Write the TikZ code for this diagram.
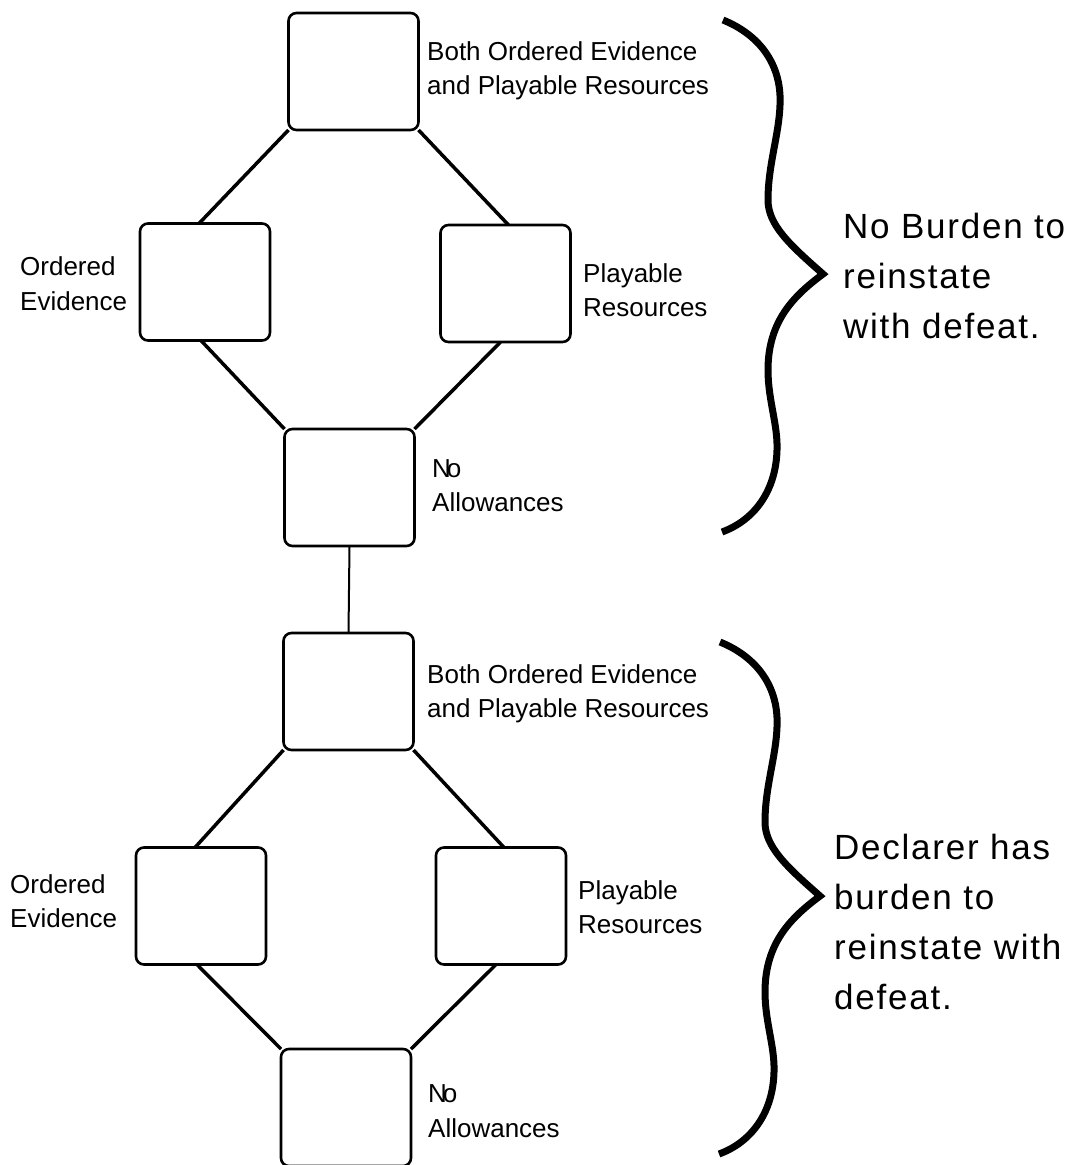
\documentclass[tikz,border=0pt]{standalone}
\usepackage{fontspec}
\setmainfont{Liberation Sans}
\newfontfamily\brcfont[LetterSpace=5]{Liberation Sans}
\begin{document}
\begin{tikzpicture}[x=1pt,y=-1pt,
  box/.style={draw, line width=2.6pt, rounded corners=8pt, minimum width=130pt, minimum height=117pt, inner sep=0pt, outer sep=0pt},
  lbl/.style={inner sep=0pt, anchor=west, align=left, font=\fontsize{26}{34.5}\selectfont},
  brlbl/.style={inner sep=0pt, anchor=west, align=left, font=\brcfont\fontsize{35}{50}\selectfont},
  link/.style={line width=3.5pt},
  vlink/.style={line width=2pt},
  bracestroke/.style={line width=7pt, line join=miter}]
\useasboundingbox (0,0) rectangle (1083,1165);

% upper group
\node[box] (t1) at (353.5,71.5) {};
\node[box] (l1) at (205,282) {};
\node[box] (r1) at (505.5,283.5) {};
\node[box] (b1) at (349.5,487.5) {};
% lower group
\node[box] (t2) at (348.5,691.5) {};
\node[box] (l2) at (201,906) {};
\node[box] (r2) at (501,906) {};
\node[box] (b2) at (346,1107.5) {};

% connectors
\draw[link] (t1.south west) -- ([xshift=-6pt]l1.north);
\draw[link] (t1.south east) -- ([xshift=3pt]r1.north);
\draw[link] ([xshift=-4pt]l1.south) -- (b1.north west);
\draw[link] ([xshift=-5pt]r1.south) -- (b1.north east);
\draw[vlink] (b1.south) -- (t2.north);
\draw[link] (t2.south west) -- ([xshift=-6pt]l2.north);
\draw[link] (t2.south east) -- ([xshift=3pt]r2.north);
\draw[link] ([xshift=-4pt]l2.south) -- (b2.north west);
\draw[link] ([xshift=-5pt]r2.south) -- (b2.north east);

% labels
\node[lbl] (tl1) at (427,71) {Both Ordered Evidence\\and Playable Resources};
\node[lbl] (ll1) at (20,283.5) {Ordered\\Evidence};
\node[lbl] (rl1) at (583,290) {Playable\\Resources};
\node[lbl] (bl1) at (432,485.5) {N\kern-4pt o\\Allowances};
\node[lbl] (tl2) at (427,694) {Both Ordered Evidence\\and Playable Resources};
\node[lbl] (ll2) at (10,901) {Ordered\\Evidence};
\node[lbl] (rl2) at (578,907) {Playable\\Resources};
\node[lbl] (bl2) at (428,1111) {N\kern-4pt o\\Allowances};

% braces
\draw[bracestroke] (723,20) .. controls (760,35) and (782,65) .. (780,105)
  .. controls (779,135) and (768,165) .. (768,200)
  .. controls (768,225) and (790,245) .. (823,274)
  .. controls (795,295) and (768,320) .. (768,370)
  .. controls (768,400) and (778,425) .. (777,450)
  .. controls (776,490) and (755,520) .. (722,532);
\begin{scope}[shift={(-3,622)}]
\draw[bracestroke] (723,20) .. controls (760,35) and (782,65) .. (780,105)
  .. controls (779,135) and (768,165) .. (768,200)
  .. controls (768,225) and (790,245) .. (823,274)
  .. controls (795,295) and (768,320) .. (768,370)
  .. controls (768,400) and (778,425) .. (777,450)
  .. controls (776,490) and (755,520) .. (722,532);
\end{scope}

\node[brlbl] (n1) at (843,275.5) {No Burden to\\reinstate\\with defeat.};
\node[brlbl] (n2) at (834,922) {Declarer has\\burden to\\reinstate with\\defeat.};
\end{tikzpicture}
\end{document}
